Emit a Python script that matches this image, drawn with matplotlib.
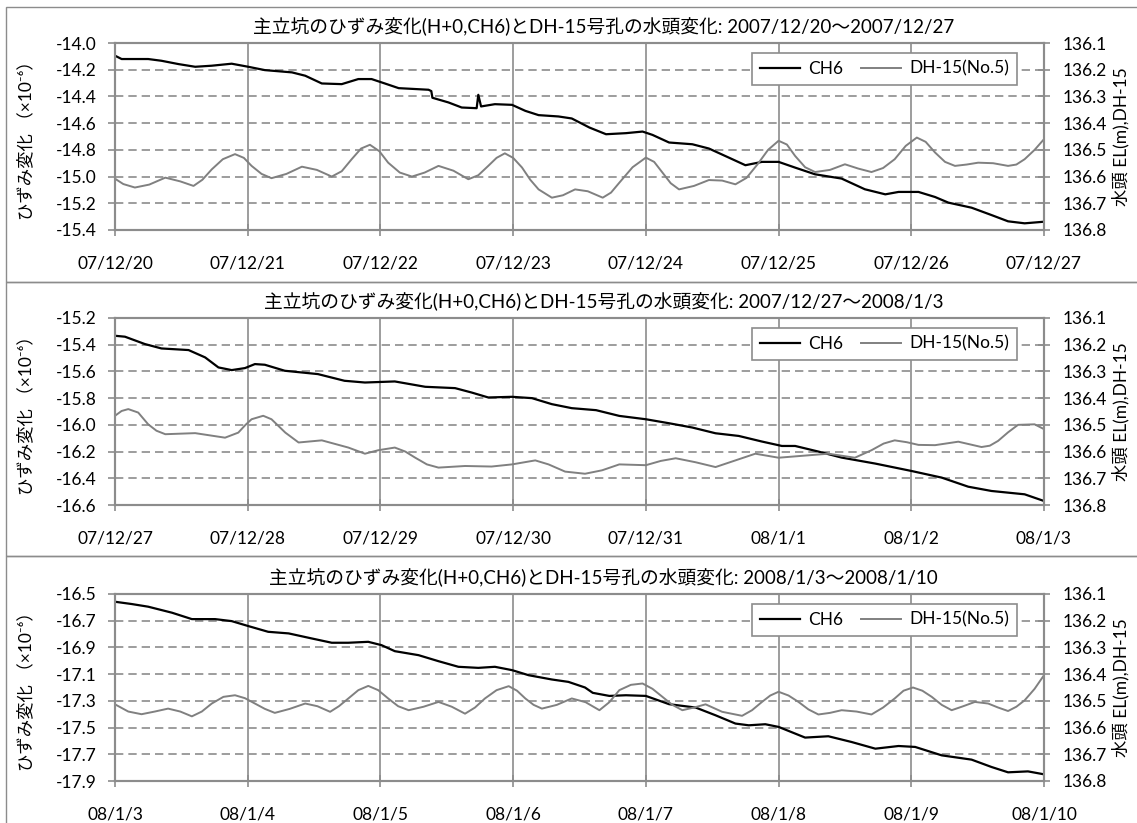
import matplotlib
matplotlib.use('Agg')
import matplotlib.pyplot as plt
from matplotlib.patches import Rectangle

plt.rcParams['font.family'] = ['Lato', 'Noto Sans CJK JP', 'DejaVu Sans']

# ---- data (hours from start of each panel) ----
titles = [
    '主立坑のひずみ変化(H+0,CH6)とDH-15号孔の水頭変化: 2007/12/20～2007/12/27',
    '主立坑のひずみ変化(H+0,CH6)とDH-15号孔の水頭変化: 2007/12/27～2008/1/3',
    '主立坑のひずみ変化(H+0,CH6)とDH-15号孔の水頭変化: 2008/1/3～2008/1/10',
]
date_labels = [
    ['07/12/20', '07/12/21', '07/12/22', '07/12/23', '07/12/24', '07/12/25', '07/12/26', '07/12/27'],
    ['07/12/27', '07/12/28', '07/12/29', '07/12/30', '07/12/31', '08/1/1', '08/1/2', '08/1/3'],
    ['08/1/3', '08/1/4', '08/1/5', '08/1/6', '08/1/7', '08/1/8', '08/1/9', '08/1/10'],
]
left_ticks = [
    [-14.0, -14.2, -14.4, -14.6, -14.8, -15.0, -15.2, -15.4],
    [-15.2, -15.4, -15.6, -15.8, -16.0, -16.2, -16.4, -16.6],
    [-16.5, -16.7, -16.9, -17.1, -17.3, -17.5, -17.7, -17.9],
]
right_ticks = [136.1, 136.2, 136.3, 136.4, 136.5, 136.6, 136.7, 136.8]

# panel 1
p1_ch6_h = [0, 1.2, 6.0, 8.4, 11.5, 14.5, 17.5, 21.1, 24.1, 27.1, 32.0, 34.4, 37.4, 41.0,
            44.0, 46.4, 48.8, 51.3, 56.7, 57.2, 57.4, 60.3, 62.7, 65.4, 65.7, 66.2, 68.7,
            71.8, 74.2, 76.6, 80.2, 82.6, 85.8, 88.8, 92.4, 95.4, 97.2, 100.2, 104.4, 107.4,
            111.0, 114.0, 117.0, 120.0, 123.0, 126.6, 131.4, 135.6, 139.3, 141.7, 145.3,
            148.3, 150.7, 154.9, 158.5, 161.5, 164.5, 168.0]
p1_ch6_v = [-14.095, -14.12, -14.12, -14.133, -14.158, -14.178, -14.17, -14.155, -14.178,
            -14.203, -14.22, -14.245, -14.303, -14.308, -14.27, -14.27, -14.303, -14.338,
            -14.35, -14.36, -14.41, -14.445, -14.483, -14.488, -14.388, -14.475, -14.458,
            -14.463, -14.508, -14.54, -14.55, -14.565, -14.633, -14.683, -14.675, -14.663,
            -14.688, -14.745, -14.758, -14.79, -14.858, -14.915, -14.89, -14.89, -14.933,
            -14.983, -15.015, -15.095, -15.133, -15.115, -15.115, -15.153, -15.195, -15.233,
            -15.288, -15.335, -15.35, -15.338]
p1_dh_h = [0, 1.5, 3.6, 6.2, 9.1, 11.8, 14.2, 15.8, 17.5, 19.5, 21.7, 23.3, 24.7, 26.5, 28.3,
           31.0, 33.8, 36.5, 39.2, 41.0, 42.8, 44.5, 46.1, 47.8, 49.4, 51.5, 53.7, 56.0,
           58.5, 61.2, 63.9, 65.7, 67.5, 69.0, 70.5, 72.0, 73.6, 75.1, 76.6, 79.0, 81.0,
           83.2, 85.5, 88.2, 89.7, 91.2, 93.6, 96.0, 97.5, 99.0, 100.5, 102.0, 104.7,
           107.4, 109.8, 112.2, 114.2, 116.2, 118.1, 120.0, 121.5, 123.0, 124.8, 126.6,
           129.3, 132.0, 134.4, 136.8, 138.9, 141.0, 143.0, 145.0, 146.6, 148.3, 150.1,
           151.9, 154.0, 156.1, 158.8, 161.5, 163.0, 164.5, 166.3, 168.0]
p1_dh_v = [136.608, 136.628, 136.641, 136.630, 136.604, 136.618, 136.635, 136.612, 136.573,
           136.535, 136.516, 136.530, 136.56, 136.590, 136.606, 136.590, 136.563, 136.575,
           136.60, 136.580, 136.535, 136.495, 136.481, 136.505, 136.548, 136.585, 136.60,
           136.585, 136.56, 136.578, 136.61, 136.595, 136.56, 136.530, 136.513, 136.530,
           136.566, 136.612, 136.648, 136.679, 136.670, 136.648, 136.655, 136.679, 136.660,
           136.623, 136.565, 136.529, 136.545, 136.585, 136.625, 136.648, 136.635, 136.613,
           136.615, 136.629, 136.605, 136.554, 136.500, 136.466, 136.480, 136.523, 136.565,
           136.583, 136.575, 136.554, 136.570, 136.583, 136.568, 136.535, 136.485, 136.454,
           136.470, 136.51, 136.545, 136.56, 136.555, 136.548, 136.550, 136.56, 136.555,
           136.535, 136.500, 136.46]

# panel 2
p2_ch6_h = [0, 1.8, 5.4, 8.4, 13.3, 16.3, 18.7, 21.1, 23.5, 25.3, 27.1, 30.7, 36.7, 41.5,
            45.2, 50.6, 56.1, 61.5, 64.5, 67.5, 71.8, 75.4, 79.0, 82.6, 87.0, 91.2, 96.0,
            100.2, 104.4, 108.6, 112.8, 117.0, 120.6, 123.0, 127.2, 131.4, 137.5, 144.0,
            149.5, 154.3, 158.5, 164.5, 168.0]
p2_ch6_v = [-15.333, -15.34, -15.395, -15.428, -15.44, -15.495, -15.57, -15.59, -15.575,
            -15.545, -15.55, -15.595, -15.62, -15.67, -15.683, -15.675, -15.715, -15.725,
            -15.758, -15.795, -15.79, -15.80, -15.845, -15.875, -15.89, -15.933, -15.958,
            -15.988, -16.02, -16.063, -16.083, -16.125, -16.158, -16.158, -16.20, -16.245,
            -16.29, -16.345, -16.395, -16.463, -16.495, -16.52, -16.57]
p2_dh_h = [0, 1.2, 2.4, 4.2, 6.0, 7.5, 9.1, 14.5, 19.9, 22.3, 23.6, 24.7, 26.8, 28.3, 30.8,
           33.2, 37.4, 42.2, 45.2, 47.6, 50.6, 52.5, 54.3, 56.4, 58.5, 63.3, 68.1, 71.8,
           76.0, 78.4, 81.4, 85.0, 88.1, 91.2, 96.0, 98.7, 101.4, 105.0, 108.6, 112.2,
           115.8, 120.0, 125.4, 129.0, 133.8, 136.8, 139.0, 141.0, 143.2, 145.3, 148.3,
           152.5, 156.7, 158.2, 159.7, 161.5, 163.3, 166.3, 168.0]
p2_dh_v = [136.466, 136.448, 136.441, 136.454, 136.498, 136.522, 136.535, 136.531, 136.548,
           136.529, 136.500, 136.479, 136.466, 136.479, 136.529, 136.566, 136.558, 136.585,
           136.608, 136.595, 136.585, 136.600, 136.623, 136.648, 136.66, 136.654, 136.656,
           136.648, 136.633, 136.648, 136.675, 136.683, 136.670, 136.648, 136.651, 136.635,
           136.625, 136.640, 136.658, 136.633, 136.608, 136.623, 136.614, 136.608, 136.623,
           136.595, 136.570, 136.558, 136.565, 136.575, 136.576, 136.563, 136.583, 136.578,
           136.56, 136.528, 136.50, 136.498, 136.516]

# panel 3
p3_ch6_h = [0, 3.0, 6.0, 10.3, 13.9, 18.1, 21.1, 24.1, 27.7, 31.4, 35.6, 39.2, 42.2, 45.8,
            48.2, 50.6, 54.9, 58.5, 62.1, 65.7, 68.7, 71.8, 74.8, 79.0, 82.0, 85.0, 86.4,
            89.4, 92.4, 96.0, 100.2, 105.0, 108.6, 112.2, 114.6, 117.6, 120.0, 124.8, 129.0,
            133.2, 137.5, 141.7, 144.7, 149.5, 154.9, 158.5, 161.5, 165.1, 168.0]
p3_ch6_v = [-16.558, -16.575, -16.595, -16.64, -16.688, -16.688, -16.703, -16.74, -16.783,
            -16.795, -16.833, -16.865, -16.865, -16.858, -16.883, -16.928, -16.958, -17.003,
            -17.045, -17.053, -17.045, -17.07, -17.108, -17.14, -17.158, -17.20, -17.24,
            -17.263, -17.258, -17.263, -17.325, -17.35, -17.408, -17.47, -17.483, -17.475,
            -17.495, -17.575, -17.565, -17.608, -17.658, -17.638, -17.645, -17.708, -17.74,
            -17.795, -17.835, -17.828, -17.85]
p3_dh_h = [0, 2.4, 4.8, 7.2, 9.6, 11.8, 13.9, 15.7, 17.5, 19.6, 21.7, 23.5, 25.3, 27.1,
           28.9, 31.6, 34.4, 36.6, 38.9, 40.5, 42.2, 44.0, 45.8, 47.6, 49.4, 51.2, 53.1,
           55.8, 58.5, 60.9, 63.3, 65.1, 66.9, 69.0, 71.2, 72.7, 74.2, 75.7, 77.2, 79.9,
           82.6, 85.1, 87.6, 89.4, 91.2, 93.3, 95.4, 97.2, 99.0, 100.8, 102.6, 104.7, 106.8,
           109.8, 113.4, 115.2, 117.0, 118.5, 120.0, 121.8, 123.6, 125.4, 127.2, 129.3,
           131.4, 134.1, 136.8, 138.9, 141.0, 142.6, 144.3, 146.0, 147.7, 149.5, 151.3,
           153.4, 155.5, 157.9, 159.7, 161.5, 163.0, 164.5, 166.3, 168.0]
p3_dh_v = [136.513, 136.540, 136.55, 136.540, 136.529, 136.540, 136.558, 136.540, 136.51,
           136.485, 136.479, 136.490, 136.51, 136.530, 136.545, 136.530, 136.51, 136.520,
           136.541, 136.520, 136.491, 136.460, 136.444, 136.460, 136.491, 136.520, 136.535,
           136.522, 136.504, 136.522, 136.548, 136.525, 136.491, 136.460, 136.445, 136.462,
           136.491, 136.515, 136.529, 136.515, 136.491, 136.505, 136.535, 136.505, 136.46,
           136.440, 136.435, 136.455, 136.485, 136.515, 136.535, 136.525, 136.513, 136.541,
           136.556, 136.535, 136.504, 136.480, 136.466, 136.480, 136.504, 136.532, 136.551,
           136.545, 136.535, 136.540, 136.551, 136.525, 136.491, 136.462, 136.45, 136.462,
           136.485, 136.515, 136.535, 136.520, 136.504, 136.51, 136.525, 136.538, 136.522,
           136.498, 136.455, 136.404]

panels = [
    (p1_ch6_h, p1_ch6_v, p1_dh_h, p1_dh_v),
    (p2_ch6_h, p2_ch6_v, p2_dh_h, p2_dh_v),
    (p3_ch6_h, p3_ch6_v, p3_dh_h, p3_dh_v),
]

# ---- layout (pixels of 1137x823) ----
W, H = 1137, 823
fig = plt.figure(figsize=(W / 100, H / 100), dpi=100)
gray = '#8c8c8c'

ax_tops = [43, 318, 594]
ax_h = 187
frame_tops = [7, 282, 556]
frame_bots = [282, 556, 830]

for i in range(3):
    # panel frame
    fig.add_artist(Rectangle((6 / W, 1 - frame_bots[i] / H), (W + 10 - 6) / W,
                             (frame_bots[i] - frame_tops[i]) / H,
                             transform=fig.transFigure, fill=False, edgecolor=gray, lw=1.0))

    ax = fig.add_axes([115 / W, 1 - (ax_tops[i] + ax_h) / H, (1044 - 115) / W, ax_h / H])
    ax2 = ax.twinx()
    ch_h, ch_v, dh_h, dh_v = panels[i]

    l1, = ax.plot(ch_h, ch_v, color='black', lw=1.6, label='CH6')
    l2, = ax2.plot(dh_h, dh_v, color='#808080', lw=1.4, label='DH-15(No.5)')

    lt = left_ticks[i]
    ax.set_ylim(lt[-1], lt[0])
    ax.set_yticks(lt)
    ax.set_yticklabels([f'{v:.1f}' for v in lt])
    ax2.set_ylim(right_ticks[-1], right_ticks[0])
    ax2.set_yticks(right_ticks)
    ax2.set_yticklabels([f'{v:.1f}' for v in right_ticks])

    ax.set_xlim(0, 168)
    ax.set_xticks(range(0, 169, 24))
    ax.set_xticklabels(date_labels[i])

    ax.grid(axis='y', linestyle=(0, (5, 3)), color=gray, lw=1.2)
    ax.grid(axis='x', linestyle='-', color=gray, lw=1.2)

    for a in (ax, ax2):
        for s in a.spines.values():
            s.set_color(gray)
            s.set_linewidth(1.5)
    ax.tick_params(axis='y', direction='out', length=5, width=1.2, color=gray,
                   labelsize=12.5, pad=8)
    ax.tick_params(axis='x', direction='inout', length=9, width=1.2, color=gray,
                   labelsize=12.5, pad=14)
    ax2.tick_params(axis='y', direction='inout', length=9, width=1.2, color=gray,
                    labelsize=12.5, pad=9)

    ax.text(-0.096, 0.5, 'ひずみ変化 （×10⁻⁶）', transform=ax.transAxes, rotation=90,
            ha='center', va='center', fontsize=12.5)
    ax2.text(1.083, 0.5, '水頭 EL(m),DH-15', transform=ax.transAxes, rotation=90,
             ha='center', va='center', fontsize=12.5)

    fig.text(603.5 / W, 1 - (ax_tops[i] - 16) / H, titles[i], ha='center', va='center',
             fontsize=13.5)

    leg = ax2.legend([l1, l2], ['CH6', 'DH-15(No.5)'], loc='upper right',
                     bbox_to_anchor=(0.971, 0.947), borderaxespad=0, ncol=2,
                     fontsize=12.5, fancybox=False, framealpha=1, edgecolor=gray,
                     handlelength=2.3, columnspacing=1.0, handletextpad=0.5,
                     borderpad=0.45)
    leg.get_frame().set_linewidth(1.2)

fig.savefig('out.png', dpi=100)
